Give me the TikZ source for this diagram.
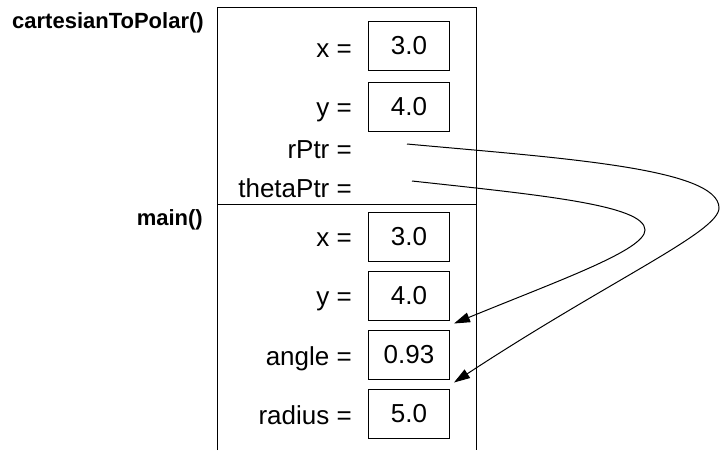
\documentclass[tikz,border=0pt]{standalone}
\usepackage{fontspec}
\setmainfont{Liberation Sans}
\usetikzlibrary{arrows.meta}

\tikzset{
  valbox/.style={draw, line width=1pt, minimum width=81pt, minimum height=49pt, inner sep=0pt, font=\fontsize{26}{30}\selectfont},
  varname/.style={anchor=base east, inner sep=0pt, font=\fontsize{26}{30}\selectfont},
  frametitle/.style={inner sep=0pt, font=\fontsize{22}{26}\selectfont\bfseries},
  ptrline/.style={line width=1pt, -{Triangle[length=16pt,width=10pt]}}
}

\begin{document}
\begin{tikzpicture}[x=1pt,y=-1pt]

\useasboundingbox (0,0) rectangle (720,450);

% stack frames
\draw[line width=1pt] (217,450) -- (217,7) -- (476,7) -- (476,450);
\draw[line width=1pt] (217,204) -- (476,204);

\node[frametitle, anchor=base west] (ctp) at (12,28) {cartesianToPolar()};
\node[frametitle, anchor=base east] (mn) at (203,225) {main()};

% cartesianToPolar()
\node[valbox] (ctpX) at (409,46) {3.0};
\node[valbox] (ctpY) at (409,106.5) {4.0};
\node[varname] (ctpXlbl) at (352,57) {x =};
\node[varname] (ctpYlbl) at (352,116) {y =};
\node[varname] (rPtrlbl) at (352,158) {rPtr =};
\node[varname] (thetaPtrlbl) at (352,197) {thetaPtr =};
\coordinate (rPtr) at (407,144);
\coordinate (thetaPtr) at (412,181);

% main()
\node[valbox] (mainX) at (409,236.5) {3.0};
\node[valbox] (mainY) at (409,295.5) {4.0};
\node[valbox] (mainAngle) at (409,354.5) {0.93};
\node[valbox] (mainRadius) at (409,413.5) {5.0};
\node[varname] (mainXlbl) at (352,246) {x =};
\node[varname] (mainYlbl) at (352,305) {y =};
\node[varname] (mainAnglelbl) at (352,365) {angle =};
\node[varname] (mainRadiuslbl) at (352,424) {radius =};

% pointers
\draw[ptrline] (rPtr) .. controls (560,158) and (719,168) .. (719,208)
  .. controls (719,232) and (610,280) .. ([shift={(4pt,6pt)}]mainRadius.north east);
\draw[ptrline] (thetaPtr) .. controls (540,195) and (645,205) .. (645,230)
  .. controls (645,250) and (560,280) .. ([shift={(4pt,6pt)}]mainAngle.north east);

\end{tikzpicture}
\end{document}
